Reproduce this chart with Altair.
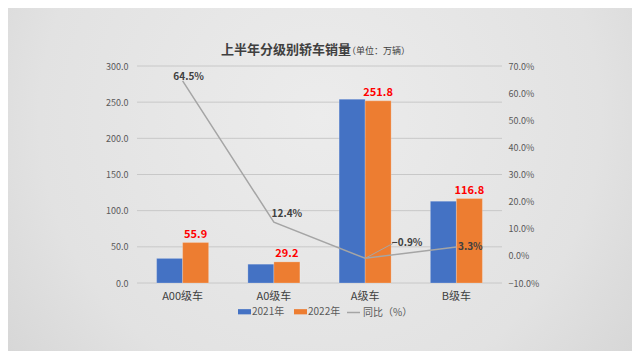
import altair as alt
import pandas as pd

categories = ["A00级车", "A0级车", "A级车", "B级车"]
sales_2021 = [34.0, 26.0, 254.1, 113.1]
sales_2022 = [55.9, 29.2, 251.8, 116.8]
growth = [64.5, 12.4, -0.9, 3.3]
years = ["2021年", "2022年"]
line_name = "同比（%）"
title_main = "上半年分级别轿车销量"
title_unit = "（单位：万辆）"
left_ticks = [0, 50, 100, 150, 200, 250, 300]
right_ticks = [-10, 0, 10, 20, 30, 40, 50, 60, 70]

FONT = "Noto Sans CJK SC"
BLUE = "#4472c4"
ORANGE = "#ed7d31"
GRAY = "#a5a5a5"

bars_df = pd.DataFrame({
    "category": categories * 2,
    "year": [years[0]] * 4 + [years[1]] * 4,
    "value": sales_2021 + sales_2022,
})
line_df = pd.DataFrame({"category": categories, "growth": growth, "series": line_name})
grid_df = pd.DataFrame({"gv": left_ticks})

x_enc = alt.X("category:N", sort=categories,
              scale=alt.Scale(domain=categories, paddingInner=0.43, paddingOuter=0.215),
              axis=alt.Axis(title=None, labelAngle=0, domain=False, ticks=False, grid=False,
                            labelFontSize=11, labelColor="#404040", labelPadding=7,
                            labelFont=FONT, zindex=1, labelOverlap=False))
xoff = alt.XOffset("year:N", scale=alt.Scale(domain=years, paddingInner=0, paddingOuter=0))
y_left = alt.Y("value:Q", scale=alt.Scale(domain=[0, 300], nice=False),
               axis=alt.Axis(title=None, values=left_ticks, format=".1f", domain=False, ticks=False,
                             grid=False, labelFontSize=9, labelColor="#595959", labelPadding=9,
                             labelFont=FONT, zindex=1, labelOverlap=False, tickCount=7))
y_right = alt.Y("growth:Q", scale=alt.Scale(domain=[-10, 70], nice=False),
                axis=alt.Axis(title=None, values=right_ticks, orient="right",
                              labelExpr="format(datum.value, '.1f') + '%'", grid=False,
                              domain=False, ticks=False, labelFontSize=9, labelColor="#595959",
                              labelPadding=6, labelFont=FONT, zindex=1, labelOverlap=False,
                              tickCount=9))

one = pd.DataFrame({"t": [title_unit], "m": [title_main]})

bg = alt.Chart(one).mark_rect(
    fill=alt.RadialGradient(
        gradient="radial", x1=0.5, y1=0.4, r1=0.0, x2=0.5, y2=0.4, r2=0.75,
        stops=[alt.GradientStop(color="#ececec", offset=0),
               alt.GradientStop(color="#e2e2e2", offset=0.6),
               alt.GradientStop(color="#cfcfcf", offset=1)]),
).encode(x=alt.value(-129), x2=alt.value(495), y=alt.value(-58), y2=alt.value(285))

grid = alt.Chart(grid_df).mark_rule(color="#c8c8c8", strokeWidth=1).encode(
    y=alt.Y("gv:Q"), x=alt.value(0), x2=alt.value(365))

title = alt.Chart(one).mark_text(align="center", baseline="middle", fontSize=13,
                                 fontWeight="bold", color="#404040", font=FONT).encode(
    x=alt.value(149), y=alt.value(-16), text="m:N")

subtitle = alt.Chart(one).mark_text(align="left", baseline="middle", fontSize=9,
                                    color="#404040", font=FONT).encode(
    x=alt.value(210), y=alt.value(-15), text="t:N")

bars = alt.Chart(bars_df).mark_bar(stroke="#ffffff", strokeOpacity=0.35, strokeWidth=0.6).encode(
    x=x_enc, xOffset=xoff, y=y_left,
    color=alt.Color("year:N", scale=alt.Scale(domain=years, range=[BLUE, ORANGE]),
                    legend=alt.Legend(title=None, orient="none", legendX=101, legendY=239,
                                      direction="horizontal",
                                      symbolType="M-1,-0.4H1V0.4H-1Z", symbolSize=169,
                                      symbolStrokeWidth=0, labelFontSize=10,
                                      labelColor="#595959", labelFont=FONT, labelOffset=1,
                                      columnPadding=9, padding=0)),
)

bar_labels = alt.Chart(bars_df).transform_filter(
    alt.datum.year == years[1]
).mark_text(baseline="bottom", dy=-3, fontSize=11, fontWeight="bold", color="#ff0000",
            font=FONT).encode(
    x=alt.X("category:N", sort=categories), xOffset=xoff, y=alt.Y("value:Q"),
    text=alt.Text("value:Q", format=".1f"))

left = alt.layer(bg, grid, bars, bar_labels, title, subtitle)

line = alt.Chart(line_df).mark_line(strokeWidth=1.5).encode(
    x=alt.X("category:N", sort=categories), y=y_right,
    stroke=alt.Stroke("series:N", scale=alt.Scale(domain=[line_name], range=[GRAY]),
                      legend=alt.Legend(title=None, orient="none", legendX=209, legendY=239,
                                        symbolType="stroke", symbolSize=169,
                                        symbolStrokeWidth=1.5, labelFontSize=10,
                                        labelColor="#595959", labelFont=FONT, labelOffset=2,
                                        padding=0)),
)

label_offsets = {"A00级车": (6, -4), "A0级车": (13, -8), "A级车": (42, -15), "B级车": (14, 0)}
line_labels = []
for cat in categories:
    dx, dy = label_offsets[cat]
    line_labels.append(
        alt.Chart(line_df).transform_filter(alt.datum.category == cat)
        .transform_calculate(lbl="format(datum.growth, '.1f') + '%'")
        .mark_text(dx=dx, dy=dy, fontSize=10, fontWeight="bold", color="#404040", font=FONT)
        .encode(x=alt.X("category:N", sort=categories), y=alt.Y("growth:Q"), text="lbl:N"))

leader = alt.Chart(line_df).transform_filter(alt.datum.category == categories[2]).mark_rule(
    color=GRAY, strokeWidth=1, x2Offset=28, y2Offset=-15).encode(
    x=alt.X("category:N", sort=categories), x2="category:N",
    y=alt.Y("growth:Q"), y2="growth:Q")

right = alt.layer(line, leader, *line_labels)

chart = alt.layer(left, right).resolve_scale(y="independent").properties(
    width=365, height=217,
    autosize=alt.AutoSizeParams(type="none"),
    padding={"left": 129, "top": 58, "right": 130, "bottom": 68},
    background="#dcdcdc",
).configure_view(stroke=None).configure_axis(labelOverlap=False)

chart.save("out.html", embed_options={"renderer": "svg", "actions": False})
